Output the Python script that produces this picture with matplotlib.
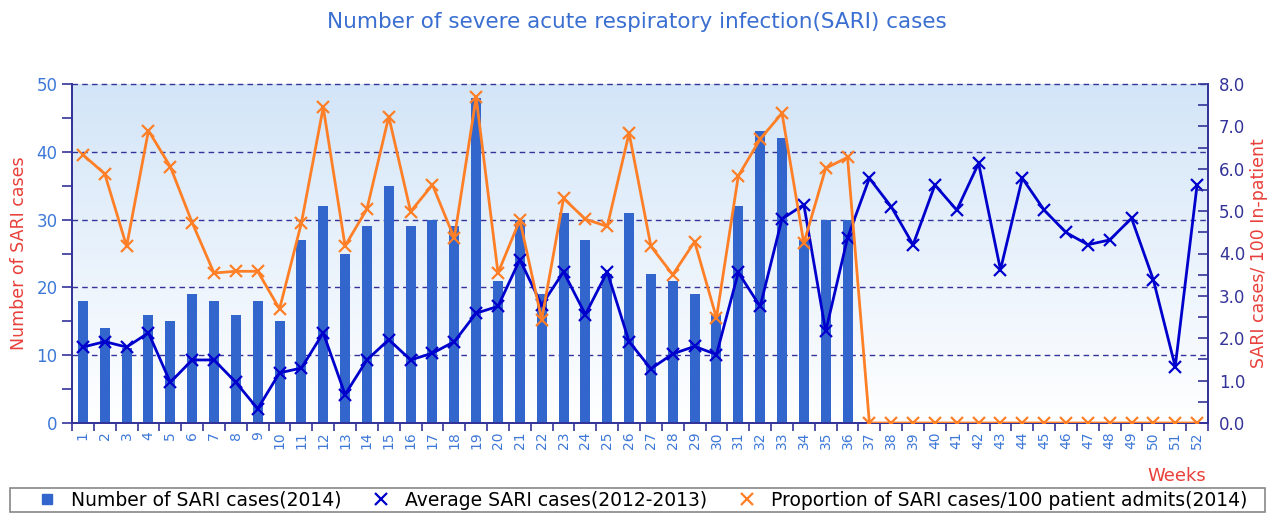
import numpy as np
import matplotlib
matplotlib.use("Agg")
import matplotlib.pyplot as plt
from matplotlib.lines import Line2D
from matplotlib.patches import Rectangle

# Weekly SARI data
weeks = list(range(1, 53))
cases_2014 = [18, 14, 11, 16, 15, 19, 18, 16, 18, 15, 27, 32, 25, 29, 35, 29, 30, 29,
              48, 21, 30, 19, 31, 27, 22, 31, 22, 21, 19, 16, 32, 43, 42, 27, 30, 30]
avg_2012_2013 = [11.2, 12.0, 11.2, 13.3, 6.0, 9.3, 9.3, 6.0, 2.1, 7.4, 8.1, 13.3,
                 4.2, 9.3, 12.3, 9.3, 10.3, 12.0, 16.2, 17.2, 24.1, 17.4, 22.3, 16.0,
                 22.3, 12.0, 8.0, 10.2, 11.3, 10.1, 22.2, 17.2, 30.1, 32.2, 13.5, 27.3,
                 36.1, 31.9, 26.3, 35.1, 31.4, 38.3, 22.6, 36.1, 31.4, 28.1, 26.3, 27.0,
                 30.2, 21.1, 8.3, 35.1]
proportion_2014 = [6.33, 5.88, 4.17, 6.90, 6.05, 4.73, 3.54, 3.58, 3.58, 2.69, 4.72, 7.45,
                   4.18, 5.05, 7.23, 4.99, 5.62, 4.36, 7.69, 3.54, 4.79, 2.44, 5.30, 4.81,
                   4.64, 6.84, 4.17, 3.50, 4.28, 2.48, 5.83, 6.70, 7.31, 4.24, 6.01, 6.27,
                   0, 0, 0, 0, 0, 0, 0, 0, 0, 0, 0, 0, 0, 0, 0, 0]

bar_color = '#3366cc'
avg_color = '#0000cc'
prop_color = '#ff7f27'
axis_color = '#333399'
label_red = '#e8403a'
tick_blue = '#3d78d8'

fig = plt.figure(figsize=(12.73, 5.14), dpi=100)
ax = fig.add_axes([72/1273, 91/514, 1136/1273, 339/514])
ax2 = ax.twinx()

# gradient background
grad = np.linspace(0, 1, 256).reshape(-1, 1)
cmap = matplotlib.colors.LinearSegmentedColormap.from_list('bg', ['#ffffff', '#d3e5f8'])
ax.imshow(grad, aspect='auto', cmap=cmap, origin='lower',
          extent=[0.5, 52.5, 0, 50], zorder=0)

ax.bar(weeks[:len(cases_2014)], cases_2014, width=0.46, color=bar_color, zorder=2)
ax.plot(weeks, avg_2012_2013, color=avg_color, lw=2, marker='x', ms=8, mew=1.6, zorder=3)
ax2.plot(weeks, proportion_2014, color=prop_color, lw=2, marker='x', ms=8, mew=1.6, zorder=3)

ax.set_xlim(0.5, 52.5)
ax.set_ylim(0, 50)
ax2.set_ylim(0, 8)

for y in [10, 20, 30, 40, 50]:
    ax.axhline(y, color=axis_color, lw=1, ls=(0, (4, 3)), zorder=1, clip_on=False)

for a in (ax, ax2):
    a.spines['top'].set_visible(False)
    for s in ('left', 'right', 'bottom'):
        a.spines[s].set_color(axis_color)
        a.spines[s].set_linewidth(1.3)

# x ticks: labels at centres, marks at week boundaries
ax.set_xticks(weeks)
ax.set_xticklabels([str(w) for w in weeks], rotation=90, color=tick_blue, fontsize=10)
ax.tick_params(axis='x', which='major', length=0, pad=6)
ax.set_xticks(np.arange(0.5, 53, 1), minor=True)
ax.tick_params(axis='x', which='minor', length=6, color=axis_color, width=1.2)

ax.set_yticks([0, 10, 20, 30, 40, 50])
ax.set_yticks([5, 15, 25, 35, 45], minor=True)
ax.tick_params(axis='y', which='both', length=7, color=axis_color, width=1.2,
               labelcolor=tick_blue, labelsize=12)

ax2.set_yticks(np.arange(0, 8.1, 1))
ax2.set_yticklabels([f'{v:.1f}' for v in np.arange(0, 8.1, 1)])
ax2.set_yticks(np.arange(0.5, 8, 1), minor=True)
ax2.tick_params(axis='y', which='both', direction='in', length=7, color=axis_color,
                width=1.2, labelcolor=axis_color, labelsize=12, pad=8)

ax.set_ylabel('Number of SARI cases', color=label_red, fontsize=12.5, labelpad=6)
ax2.set_ylabel('SARI cases/ 100 In-patient', color=label_red, fontsize=12.5, labelpad=3)

fig.text(0.5, 1 - 22/514, 'Number of severe acute respiratory infection(SARI) cases',
         ha='center', va='center', color='#3a6fd1', fontsize=15.5)
fig.text(1206/1273, 1 - 476/514, 'Weeks', ha='right', va='center',
         color=label_red, fontsize=13)

# legend: box across the bottom, entries packed from the left
fig.patches.append(Rectangle((10/1273, 2/514), 1255/1273, 24/514, transform=fig.transFigure,
                             facecolor='white', edgecolor='#888888', lw=1.2, zorder=0))
handles = [
    Line2D([], [], ls='none', marker='s', ms=7, color=bar_color),
    Line2D([], [], ls='none', marker='x', ms=8, mew=1.6, color=avg_color),
    Line2D([], [], ls='none', marker='x', ms=8, mew=1.6, color=prop_color),
]
labels = ['Number of SARI cases(2014)', 'Average SARI cases(2012-2013)',
          'Proportion of SARI cases/100 patient admits(2014)']
fig.legend(handles, labels, loc='center left', ncol=3,
           bbox_to_anchor=(28/1273, 14/514), fontsize=13.5, frameon=False,
           borderpad=0, handletextpad=0.8, handlelength=1.0, columnspacing=1.6)

fig.savefig('out.png', dpi=100)
